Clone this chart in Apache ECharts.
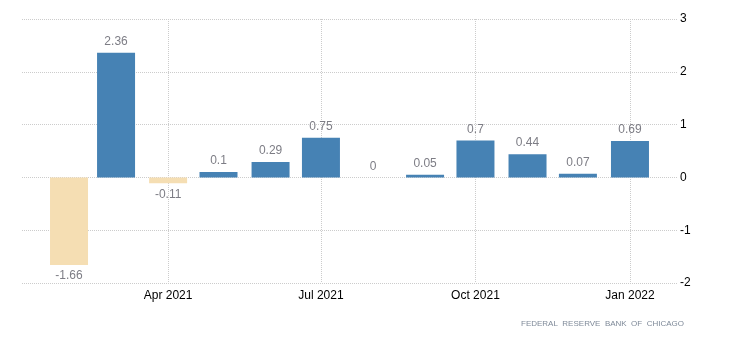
<!DOCTYPE html>
<html>
<head>
<meta charset="utf-8">
<script src="https://cdn.jsdelivr.net/npm/echarts@6/dist/echarts.min.js"></script>
<style>
  html, body { margin: 0; padding: 0; background: #fff; }
  #chart { width: 730px; height: 340px; }
</style>
</head>
<body>
<div id="chart"></div>
<script>
// Monthly change, reported at the first day of each month
const months = ['2021-02-01', '2021-03-01', '2021-04-01', '2021-05-01', '2021-06-01', '2021-07-01',
                '2021-08-01', '2021-09-01', '2021-10-01', '2021-11-01', '2021-12-01', '2022-01-01'];
const values = [-1.66, 2.36, -0.11, 0.1, 0.29, 0.75, 0, 0.05, 0.7, 0.44, 0.07, 0.69];
const yTicks = [-2, -1, 0, 1, 2, 3];
const sourceText = 'FEDERAL  RESERVE  BANK  OF  CHICAGO';

const POS = '#4682b4';
const NEG = '#f5deb3';
const DAY = 24 * 3600 * 1000;
const BAR_W = 38;
const GRID = { left: 22, right: 53, top: 19, bottom: 57 };
const PLOT_W = 730 - GRID.left - GRID.right;

const seriesData = months.map((m, i) => {
  const v = values[i];
  const neg = v < 0;
  return {
    value: [m, v],
    itemStyle: { color: neg ? NEG : POS },
    label: { position: neg ? 'bottom' : 'top' }
  };
});

// Visible time range: four weeks of padding on both sides of the data.
const firstT = new Date(months[0] + 'T00:00:00').getTime();
const lastT = new Date(months[months.length - 1] + 'T00:00:00').getTime();
const wantMin = firstT - 28 * DAY;
const wantMax = lastT + 28 * DAY;
// ECharts widens a time axis carrying bars by the bar overflow; pre-shrink so the
// final extent ends up at wantMin..wantMax.
const range = wantMax - wantMin;
const shrink = range * (BAR_W / PLOT_W) / 2;
const axisMin = wantMin + shrink;
const axisMax = wantMax - shrink;

const chart = echarts.init(document.getElementById('chart'), null, { renderer: 'canvas' });
chart.setOption({
  animation: false,
  textStyle: { fontFamily: 'Liberation Sans, Arial, sans-serif' },
  grid: Object.assign({ containLabel: false }, GRID),
  xAxis: {
    type: 'time',
    min: axisMin,
    max: axisMax,
    splitNumber: 4,
    minInterval: 80 * DAY,
    maxInterval: 100 * DAY,
    axisLine: { show: false },
    axisTick: { show: false },
    splitLine: {
      show: true, showMinLine: false, showMaxLine: false,
      lineStyle: { color: '#cccccc', type: 'dotted', width: 1 }
    },
    axisLabel: {
      color: '#000', fontSize: 12, margin: 7,
      formatter: '{MMM} {yyyy}',
      hideOverlap: false,
      showMinLabel: false, showMaxLabel: false
    }
  },
  yAxis: {
    type: 'value',
    position: 'right',
    min: yTicks[0],
    max: yTicks[yTicks.length - 1],
    interval: 1,
    axisLine: { show: false },
    axisTick: { show: false },
    splitLine: { show: true, lineStyle: { color: '#cccccc', type: 'dotted', width: 1 } },
    axisLabel: { color: '#000', fontSize: 12, margin: 3, align: 'left' }
  },
  series: [{
    type: 'bar',
    barWidth: BAR_W,
    data: seriesData,
    label: {
      show: true,
      distance: 5,
      color: '#7d7d85',
      fontSize: 12,
      formatter: p => String(p.value[1])
    }
  }],
  graphic: [{
    type: 'text',
    right: 46,
    top: 320,
    style: {
      text: sourceText,
      fill: '#7f8a99',
      font: '8px "Liberation Sans", Arial, sans-serif'
    }
  }]
});
</script>
</body>
</html>
